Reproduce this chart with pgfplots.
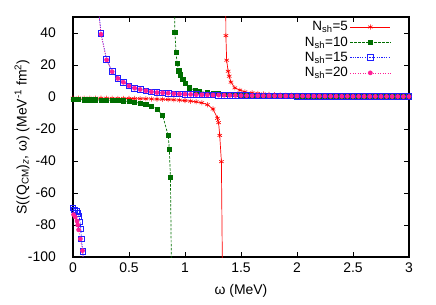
\documentclass[border=0pt]{standalone}
\usepackage{fontspec}
\setmainfont{Liberation Sans}
\usepackage{pgfplots}
\pgfplotsset{compat=1.18}
\definecolor{cred}{RGB}{255,0,0}
\definecolor{cgreen}{RGB}{0,110,0}
\definecolor{cblue}{RGB}{30,30,255}
\definecolor{cpink}{RGB}{255,30,150}
\begin{document}
\begin{tikzpicture}
\path[use as bounding box] (-73bp,-48bp) rectangle (363bp,257bp);
\begin{axis}[
  at={(0,0)}, anchor=south west,
  scale only axis, width=336bp, height=240bp,
  xmin=0, xmax=3, ymin=-100, ymax=50,
  xtick={0,0.5,1,1.5,2,2.5,3},
  xticklabels={0,0.5,1,1.5,2,2.5,3},
  ytick={-100,-80,-60,-40,-20,0,20,40},
  yticklabels={-100,-80,-60,-40,-20,0,20,40},
  tick align=inside, major tick length=5bp,
  tick style={black, line width=0.9pt},
  axis line style={line width=1.3pt},
  font=\fontsize{14}{16}\selectfont,
  xticklabel style={inner sep=0pt, yshift=-6bp},
  yticklabel style={inner sep=0pt, xshift=-17bp},
  xlabel={ω (MeV)},
  ylabel={S((Q\textsubscript{CM})\textsubscript{\textit{z}}, ω) (MeV\textsuperscript{-1} fm\textsuperscript{2})},
  xlabel style={at={(axis description cs:0.5,0)}, anchor=center, inner sep=0pt, yshift=-34bp},
  ylabel style={at={(axis description cs:0,0.5)}, anchor=center, inner sep=0pt, yshift=51bp},
  legend plot pos=right,
  legend cell align=right,
  legend style={draw=none, fill=none, at={(rel axis cs:0.946,0.99)}, anchor=north east,
    font=\fontsize{13.5}{15}\selectfont, row sep=0.5bp, inner sep=0pt},
  legend image code/.code={\draw[mark repeat=2,mark phase=2,#1] plot coordinates {(0bp,0bp) (20bp,0bp) (40bp,0bp)};},
]
% N_sh = 5
\addplot[cred, line width=0.7pt, mark=asterisk, mark size=2.6pt, mark options={solid, line width=0.6pt}] coordinates {
(0,-0.7) (0.05,-0.7) (0.1,-0.72) (0.15,-0.74) (0.2,-0.76) (0.25,-0.78) (0.3,-0.8) (0.35,-0.83) (0.4,-0.86) (0.45,-0.9) (0.5,-0.94) (0.55,-0.99) (0.6,-1.05) (0.65,-1.12) (0.7,-1.2) (0.75,-1.3) (0.8,-1.42) (0.85,-1.57) (0.9,-1.75) (0.95,-1.97) (1.0,-2.25) (1.05,-2.6) (1.1,-3.0) (1.15,-3.6) (1.2,-4.8) (1.25,-7.5) (1.29,-13.3) (1.3,-16) (1.31,-24) (1.325,-40.4) (1.335,-115)
};
\addlegendentry{N\textsubscript{sh}=5}
\addplot[cred, line width=0.7pt, mark=asterisk, mark size=2.6pt, mark options={solid, line width=0.6pt}, forget plot] coordinates {
(1.357,300) (1.365,38.4) (1.372,23) (1.385,16.1) (1.395,13) (1.41,9.3) (1.445,5.7) (1.49,4.3) (1.535,3.2) (1.6,2.6) (1.65,2.2) (1.7,1.9) (1.75,1.65) (1.8,1.45) (1.85,1.3) (1.9,1.18) (1.95,1.07) (2.0,0.98) (2.05,0.92) (2.1,0.86) (2.15,0.8) (2.2,0.76) (2.25,0.72) (2.3,0.68) (2.35,0.64) (2.4,0.61) (2.45,0.58) (2.5,0.55) (2.55,0.53) (2.6,0.5) (2.65,0.48) (2.7,0.46) (2.75,0.44) (2.8,0.43) (2.85,0.41) (2.9,0.4) (2.95,0.38) (3.0,0.37)
};
% N_sh = 10
\addplot[cgreen, line width=0.7pt, dashed, dash pattern=on 2.5pt off 1.5pt, mark=square*, mark size=2.1pt, mark options={solid}] coordinates {
(0,-1.7) (0.05,-1.72) (0.1,-1.75) (0.15,-1.78) (0.2,-1.82) (0.25,-1.87) (0.3,-1.93) (0.35,-2.0) (0.4,-2.15) (0.45,-2.4) (0.5,-2.8) (0.55,-3.3) (0.6,-3.9) (0.65,-4.6) (0.7,-5.6) (0.75,-7.5) (0.8,-11.3) (0.85,-24.2) (0.86,-32.7) (0.87,-50) (0.88,-115)
};
\addlegendentry{N\textsubscript{sh}=10}
\addplot[cgreen, line width=0.7pt, dashed, dash pattern=on 2.5pt off 1.5pt, mark=square*, mark size=2.1pt, mark options={solid}, forget plot] coordinates {
(0.9,80) (0.91,40.2) (0.92,27.7) (0.93,21) (0.945,16.4) (0.96,13.8) (0.98,11) (1.0,8.6) (1.04,5.7) (1.09,4.1) (1.13,3.4) (1.2,2.8) (1.25,2.4) (1.3,2.1) (1.35,1.85) (1.4,1.65) (1.45,1.5) (1.5,1.35) (1.55,1.25) (1.6,1.15) (1.65,1.07) (1.7,1.0) (1.75,0.94) (1.8,0.88) (1.85,0.83) (1.9,0.78) (1.95,0.74) (2.0,0.7) (2.05,0.67) (2.1,0.64) (2.15,0.61) (2.2,0.58) (2.25,0.56) (2.3,0.53) (2.35,0.51) (2.4,0.49) (2.45,0.47) (2.5,0.46) (2.55,0.44) (2.6,0.43) (2.65,0.41) (2.7,0.4) (2.75,0.39) (2.8,0.38) (2.85,0.36) (2.9,0.35) (2.95,0.34) (3.0,0.33)
};
% N_sh = 15
\addplot[cblue, line width=0.7pt, dotted, dash pattern=on 1.2pt off 1.2pt, mark=square, mark size=2.8pt, mark options={solid, line width=0.7pt}] coordinates {
(0,-69.3) (0.012,-70.4) (0.029,-71.4) (0.042,-72.8) (0.054,-74.5) (0.063,-78) (0.071,-82.4) (0.074,-88.6) (0.089,-96.4) (0.1,-115)
};
\addlegendentry{N\textsubscript{sh}=15}
\addplot[cblue, line width=0.7pt, dotted, dash pattern=on 1.2pt off 1.2pt, mark=square, mark size=2.8pt, mark options={solid, line width=0.7pt}, forget plot] coordinates {
(0.2,75) (0.25,39.7) (0.3,23.4) (0.35,15.9) (0.4,11.7) (0.45,9.25) (0.5,7.0) (0.55,5.5) (0.6,4.7) (0.65,3.9) (0.7,3.25) (0.75,2.8) (0.8,2.6) (0.85,2.4) (0.9,2.1) (0.95,1.9) (1.0,1.75) (1.05,1.62) (1.1,1.5) (1.15,1.4) (1.2,1.31) (1.25,1.22) (1.3,1.15) (1.35,1.08) (1.4,1.02) (1.45,0.97) (1.5,0.91) (1.55,0.87) (1.6,0.82) (1.65,0.79) (1.7,0.75) (1.75,0.72) (1.8,0.68) (1.85,0.65) (1.9,0.63) (1.95,0.6) (2.0,0.58) (2.05,0.56) (2.1,0.53) (2.15,0.51) (2.2,0.5) (2.25,0.48) (2.3,0.46) (2.35,0.45) (2.4,0.43) (2.45,0.42) (2.5,0.4) (2.55,0.39) (2.6,0.38) (2.65,0.37) (2.7,0.36) (2.75,0.35) (2.8,0.34) (2.85,0.33) (2.9,0.32) (2.95,0.31) (3.0,0.3)
};
% N_sh = 20
\addplot[cpink, line width=0.7pt, dotted, dash pattern=on 1pt off 1.5pt, mark=*, mark size=2pt, mark options={solid}] coordinates {
(0.005,-73.5) (0.02,-75) (0.036,-77.5) (0.042,-80) (0.05,-83) (0.066,-88.7) (0.085,-96) (0.095,-115)
};
\addlegendentry{N\textsubscript{sh}=20}
\addplot[cpink, line width=0.7pt, dotted, dash pattern=on 1pt off 1.5pt, mark=*, mark size=2pt, mark options={solid}, forget plot] coordinates {
(0.2,75) (0.25,39.2) (0.3,23.2) (0.35,15.8) (0.4,11.6) (0.45,9.2) (0.5,7.0) (0.55,5.5) (0.6,4.7) (0.65,3.9) (0.7,3.25) (0.75,2.8) (0.8,2.6) (0.85,2.4) (0.9,2.1) (0.95,1.9) (1.0,1.75) (1.05,1.62) (1.1,1.5) (1.15,1.4) (1.2,1.31) (1.25,1.22) (1.3,1.15) (1.35,1.08) (1.4,1.02) (1.45,0.97) (1.5,0.91) (1.55,0.87) (1.6,0.82) (1.65,0.79) (1.7,0.75) (1.75,0.72) (1.8,0.68) (1.85,0.65) (1.9,0.63) (1.95,0.6) (2.0,0.58) (2.05,0.56) (2.1,0.53) (2.15,0.51) (2.2,0.5) (2.25,0.48) (2.3,0.46) (2.35,0.45) (2.4,0.43) (2.45,0.42) (2.5,0.4) (2.55,0.39) (2.6,0.38) (2.65,0.37) (2.7,0.36) (2.75,0.35) (2.8,0.34) (2.85,0.33) (2.9,0.32) (2.95,0.31) (3.0,0.3)
};
\end{axis}
\end{tikzpicture}
\end{document}
